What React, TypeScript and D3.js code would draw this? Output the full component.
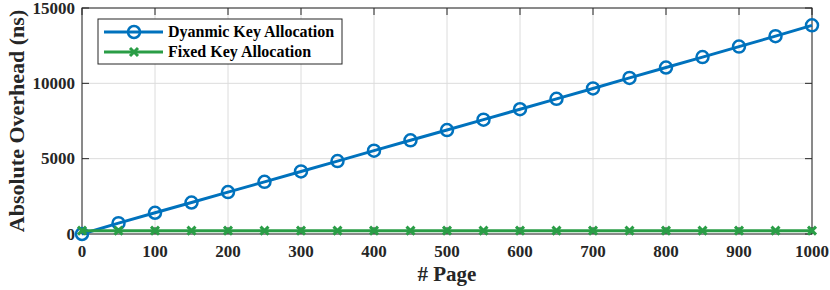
import React from "react";
import * as d3 from "d3";

const pages = [0, 50, 100, 150, 200, 250, 300, 350, 400, 450, 500, 550, 600, 650, 700, 750, 800, 850, 900, 950, 1000];
const dynamicKey = [0, 720, 1410, 2090, 2780, 3460, 4150, 4840, 5530, 6220, 6900, 7590, 8280, 8970, 9660, 10360, 11050, 11740, 12440, 13130, 13850];
const fixedKey = [220, 220, 220, 220, 220, 220, 220, 220, 220, 220, 220, 220, 220, 220, 220, 220, 220, 220, 220, 220, 220];
const xTicks = [0, 100, 200, 300, 400, 500, 600, 700, 800, 900, 1000];
const yTicks = [0, 5000, 10000, 15000];
const seriesNames = ["Dyanmic Key Allocation", "Fixed Key Allocation"];

const W = 830, H = 290;
const M = { left: 82, right: 812, top: 8, bottom: 234 };
const BLUE = "#0072BD";
const GREEN = "#2A9D46";
const FONT = "Liberation Serif";

export default function App() {
  const x = d3.scaleLinear().domain([0, 1000]).range([M.left, M.right]);
  const y = d3.scaleLinear().domain([0, 15000]).range([M.bottom, M.top]);
  const line = d3.line<number>().x((_, i) => x(pages[i])).y((d) => y(d));
  const tk = 7;
  const ts: React.CSSProperties = { fontFamily: FONT, fontWeight: 700 };

  return (
    <svg width={W} height={H} style={{ position: "absolute", left: 0, top: 0, background: "#fff" }}>
      <rect x={0} y={0} width={W} height={H} fill="#fff" />
      {xTicks.map((t) => (
        <line key={"gx" + t} x1={x(t)} x2={x(t)} y1={M.top} y2={M.bottom} stroke="#dcdcdc" strokeWidth={1} />
      ))}
      {yTicks.map((t) => (
        <line key={"gy" + t} x1={M.left} x2={M.right} y1={y(t)} y2={y(t)} stroke="#dcdcdc" strokeWidth={1} />
      ))}
      {xTicks.map((t) => (
        <g key={"tx" + t}>
          <line x1={x(t)} x2={x(t)} y1={M.bottom} y2={M.bottom - tk} stroke="#262626" />
          <line x1={x(t)} x2={x(t)} y1={M.top} y2={M.top + tk} stroke="#262626" />
          <text x={x(t)} y={257} textAnchor="middle" style={{ ...ts, fontSize: 17 }} fill="#262626">
            {t}
          </text>
        </g>
      ))}
      {yTicks.map((t) => (
        <g key={"ty" + t}>
          <line x1={M.left} x2={M.left + tk} y1={y(t)} y2={y(t)} stroke="#262626" />
          <line x1={M.right} x2={M.right - tk} y1={y(t)} y2={y(t)} stroke="#262626" />
          <text x={M.left - 7} y={y(t) + 5.5} textAnchor="end" style={{ ...ts, fontSize: 17 }} fill="#262626">
            {t}
          </text>
        </g>
      ))}
      <rect x={M.left} y={M.top} width={M.right - M.left} height={M.bottom - M.top} fill="none" stroke="#262626" strokeWidth={1} />
      <path d={line(dynamicKey) || ""} fill="none" stroke={BLUE} strokeWidth={3} />
      {dynamicKey.map((v, i) => (
        <circle key={"c" + i} cx={x(pages[i])} cy={y(v)} r={6} fill="none" stroke={BLUE} strokeWidth={2.5} />
      ))}
      <path d={line(fixedKey) || ""} fill="none" stroke={GREEN} strokeWidth={3} />
      {fixedKey.map((v, i) => {
        const cx = x(pages[i]), cy = y(v), s = 4;
        return (
          <path key={"x" + i} d={`M${cx - s},${cy - s}L${cx + s},${cy + s}M${cx - s},${cy + s}L${cx + s},${cy - s}`} stroke={GREEN} strokeWidth={3} />
        );
      })}
      <text x={447} y={281} textAnchor="middle" style={{ ...ts, fontSize: 21 }} fill="#262626">
        # Page
      </text>
      <text transform={`translate(24, 121) rotate(-90)`} textAnchor="middle" style={{ ...ts, fontSize: 22 }} fill="#262626">
        Absolute Overhead (ns)
      </text>
      <rect x={98} y={19} width={244} height={45} fill="#fff" stroke="#262626" strokeWidth={1} />
      <line x1={104} x2={163} y1={32} y2={32} stroke={BLUE} strokeWidth={3} />
      <circle cx={134} cy={32} r={6} fill="none" stroke={BLUE} strokeWidth={2.5} />
      <text x={168} y={37} style={{ ...ts, fontSize: 16 }} fill="#000">{seriesNames[0]}</text>
      <line x1={104} x2={163} y1={52} y2={52} stroke={GREEN} strokeWidth={3} />
      <path d={`M130,48L138,56M130,56L138,48`} stroke={GREEN} strokeWidth={3} />
      <text x={168} y={57} style={{ ...ts, fontSize: 16 }} fill="#000">{seriesNames[1]}</text>
    </svg>
  );
}
